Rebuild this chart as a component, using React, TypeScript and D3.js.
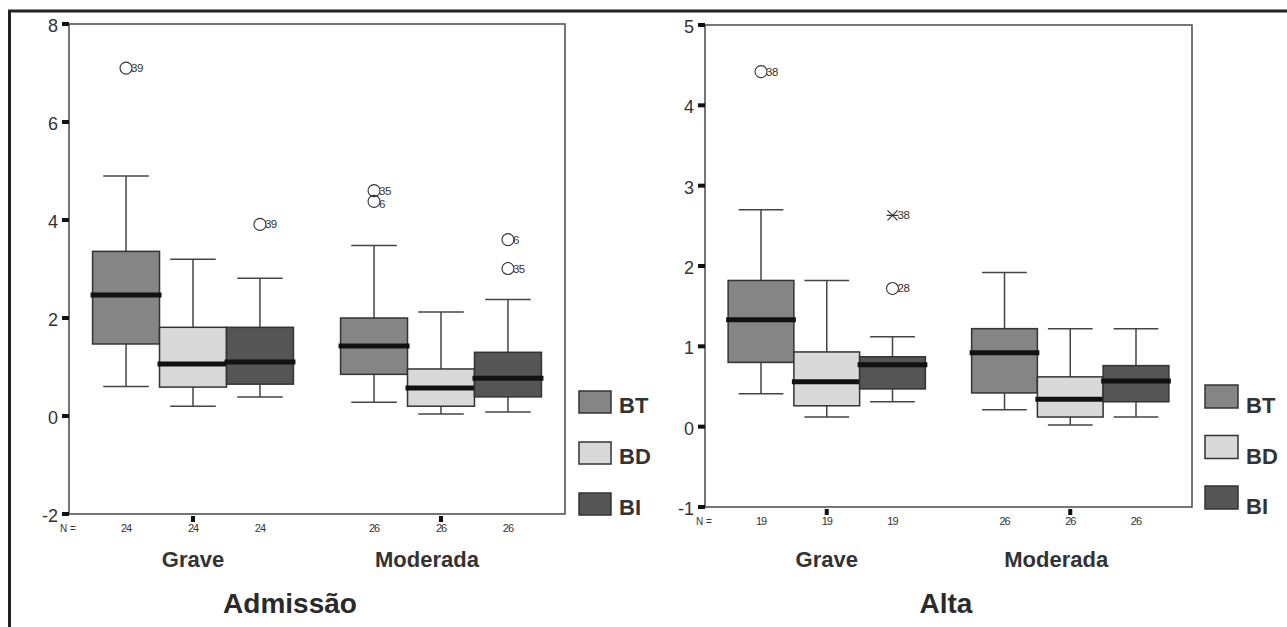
import { scaleBand, scaleLinear } from "d3";

// groups on the x axis and the three boxes in each group
const categories = ["Grave", "Moderada"];
const series = ["BT", "BD", "BI"];
const seriesColors = ["#858585", "#d9d9d9", "#555555"];

// five-number summaries: [low whisker, q1, median, q3, high whisker]
const admStats = [
  [
    [0.6, 1.47, 2.47, 3.36, 4.9],
    [0.2, 0.59, 1.06, 1.81, 3.2],
    [0.39, 0.65, 1.1, 1.81, 2.81],
  ],
  [
    [0.28, 0.85, 1.43, 2.0, 3.48],
    [0.04, 0.2, 0.57, 0.96, 2.12],
    [0.08, 0.39, 0.77, 1.3, 2.38],
  ],
];
const altaStats = [
  [
    [0.41, 0.8, 1.33, 1.82, 2.7],
    [0.12, 0.26, 0.56, 0.93, 1.82],
    [0.31, 0.47, 0.77, 0.87, 1.12],
  ],
  [
    [0.21, 0.42, 0.92, 1.22, 1.92],
    [0.02, 0.12, 0.34, 0.62, 1.22],
    [0.12, 0.31, 0.57, 0.76, 1.22],
  ],
];

// outliers: group index, series index, value, case label, extreme (star) or not
const admOutliers = [
  { g: 0, s: 0, v: 7.1, label: "39", extreme: false },
  { g: 0, s: 2, v: 3.91, label: "39", extreme: false },
  { g: 1, s: 0, v: 4.6, label: "35", extreme: false },
  { g: 1, s: 0, v: 4.38, label: "6", extreme: false },
  { g: 1, s: 2, v: 3.6, label: "6", extreme: false },
  { g: 1, s: 2, v: 3.01, label: "35", extreme: false },
];
const altaOutliers = [
  { g: 0, s: 0, v: 4.42, label: "38", extreme: false },
  { g: 0, s: 2, v: 2.63, label: "38", extreme: true },
  { g: 0, s: 2, v: 1.72, label: "28", extreme: false },
];

const admN = [24, 26];
const altaN = [19, 26];
const admTicks = [-2, 0, 2, 4, 6, 8];
const altaTicks = [-1, 0, 1, 2, 3, 4, 5];

const FONT = "'Liberation Sans', Arial, Helvetica, sans-serif";

const panels = [
  {
    title: "Admissão",
    stats: admStats,
    outliers: admOutliers,
    n: admN,
    domain: [-2, 8],
    ticks: admTicks,
    left: 69,
    right: 565,
    top: 24,
    bottom: 514,
    legendX: 579,
    legendY: 391,
    legendW: 32,
    legendH: 22,
    legendGap: 51,
    legendTextDy: 0,
    titleX: 290,
  },
  {
    title: "Alta",
    stats: altaStats,
    outliers: altaOutliers,
    n: altaN,
    domain: [-1, 5],
    ticks: altaTicks,
    left: 705,
    right: 1192,
    top: 25,
    bottom: 507,
    legendX: 1205,
    legendY: 385,
    legendW: 33,
    legendH: 23,
    legendGap: 50.5,
    legendTextDy: 5,
    titleX: 946,
  },
];

function Panel({ p }: { p: (typeof panels)[number] }) {
  const y = scaleLinear().domain(p.domain).range([p.bottom, p.top]);
  const x = scaleBand().domain(categories).range([p.left, p.right]);
  const boxW = x.bandwidth() * 0.27;
  const capW = boxW * 0.68;
  // center of box s inside group g
  const cx = (g: number, s: number) =>
    (x(categories[g]) as number) + x.bandwidth() / 2 + (s - 1) * boxW;

  // label baselines; push a label down if it would sit on the one above it in the same box
  const labelY: number[] = [];
  p.outliers.forEach((o, i) => {
    let ly = y(o.v) + 4;
    for (let j = 0; j < i; j++) {
      const q = p.outliers[j];
      if (q.g === o.g && q.s === o.s && ly - labelY[j] < 13 && ly >= labelY[j]) {
        ly = labelY[j] + 13;
      }
    }
    labelY.push(ly);
  });

  return (
    <g>
      {/* plot frame */}
      <rect
        x={p.left}
        y={p.top}
        width={p.right - p.left}
        height={p.bottom - p.top}
        fill="none"
        stroke="#4a4a4a"
        strokeWidth={1.5}
      />

      {/* y ticks */}
      {p.ticks.map((t) => (
        <g key={t}>
          <rect x={p.left - 7} y={y(t) - 2} width={7} height={4} fill="#111" />
          <text
            x={p.left - 11}
            y={y(t) + 8}
            textAnchor="end"
            fontSize={18}
            fill="#333"
            fontFamily="'Liberation Sans Narrow', 'Liberation Sans', Arial, sans-serif"
          >
            {t}
          </text>
        </g>
      ))}

      {/* boxes */}
      {p.stats.map((grp, g) =>
        grp.map(([lo, q1, med, q3, hi], s) => {
          const c = cx(g, s);
          return (
            <g key={`${g}-${s}`}>
              <line x1={c} x2={c} y1={y(hi)} y2={y(q3)} stroke="#444" strokeWidth={1.5} />
              <line x1={c} x2={c} y1={y(q1)} y2={y(lo)} stroke="#444" strokeWidth={1.5} />
              <line x1={c - capW / 2} x2={c + capW / 2} y1={y(hi)} y2={y(hi)} stroke="#444" strokeWidth={1.5} />
              <line x1={c - capW / 2} x2={c + capW / 2} y1={y(lo)} y2={y(lo)} stroke="#444" strokeWidth={1.5} />
              <rect
                x={c - boxW / 2}
                y={y(q3)}
                width={boxW}
                height={y(q1) - y(q3)}
                fill={seriesColors[s]}
                stroke="#333"
                strokeWidth={1.5}
              />
              <line
                x1={c - boxW / 2 - 2}
                x2={c + boxW / 2 + 2}
                y1={y(med)}
                y2={y(med)}
                stroke="#111"
                strokeWidth={5}
              />
            </g>
          );
        })
      )}

      {/* outliers */}
      {p.outliers.map((o, i) => {
        const c = cx(o.g, o.s);
        const cy = y(o.v);
        return (
          <g key={i}>
            {o.extreme ? (
              <g stroke="#333" strokeWidth={1.2}>
                <line x1={c - 5} x2={c + 5} y1={cy - 5} y2={cy + 5} />
                <line x1={c - 5} x2={c + 5} y1={cy + 5} y2={cy - 5} />
                <line x1={c - 6} x2={c + 6} y1={cy} y2={cy} />
              </g>
            ) : (
              <circle cx={c} cy={cy} r={6} fill="none" stroke="#333" strokeWidth={1.1} />
            )}
            <text x={c + 5} y={labelY[i]} fontSize={11.5} fill="#333" fontFamily={FONT} letterSpacing={-0.5}>
              {o.label}
            </text>
          </g>
        );
      })}

      {/* x ticks, N labels, group labels */}
      <text x={p.left - 1} y={p.bottom + 18} textAnchor="middle" fontSize={10} fill="#333" fontFamily={FONT}>
        N =
      </text>
      {categories.map((cat, g) => {
        const center = (x(cat) as number) + x.bandwidth() / 2;
        return (
          <g key={cat}>
            <rect x={center - 2} y={p.bottom + 2} width={4} height={6} fill="#111" />
            {series.map((_, s) => (
              <text
                key={s}
                x={cx(g, s)}
                y={p.bottom + 18}
                textAnchor="middle"
                fontSize={11}
                fill="#333"
                fontFamily={FONT}
                letterSpacing={-1}
              >
                {p.n[g]}
              </text>
            ))}
            <text
              x={center - (g === 1 ? 14 : 0)}
              y={567}
              textAnchor="middle"
              fontSize={22}
              fontWeight="bold"
              fill="#333"
              fontFamily={FONT}
            >
              {cat}
            </text>
          </g>
        );
      })}

      {/* legend */}
      {series.map((name, s) => {
        const ly = p.legendY + s * p.legendGap;
        return (
          <g key={name}>
            <rect
              x={p.legendX}
              y={ly}
              width={p.legendW}
              height={p.legendH}
              fill={seriesColors[s]}
              stroke="#333"
              strokeWidth={1.5}
            />
            <text
              x={p.legendX + p.legendW + 8}
              y={ly + p.legendH + p.legendTextDy}
              fontSize={22}
              fontWeight="bold"
              fill="#333"
              fontFamily={FONT}
            >
              {name}
            </text>
          </g>
        );
      })}

      {/* panel title */}
      <text
        x={p.titleX}
        y={613}
        textAnchor="middle"
        fontSize={28}
        fontWeight="bold"
        fill="#2a2a2a"
        fontFamily={FONT}
      >
        {p.title}
      </text>
    </g>
  );
}

export default function App() {
  return (
    <svg
      width={1287}
      height={627}
      style={{ position: "absolute", left: 0, top: 0, background: "#fff" }}
    >
      <rect width={1287} height={627} fill="#fff" />
      {/* outer figure frame */}
      <line x1={8} x2={1287} y1={11} y2={11} stroke="#222" strokeWidth={3} />
      <line x1={9.5} x2={9.5} y1={10} y2={627} stroke="#222" strokeWidth={3} />
      {panels.map((p) => (
        <Panel key={p.title} p={p} />
      ))}
    </svg>
  );
}
